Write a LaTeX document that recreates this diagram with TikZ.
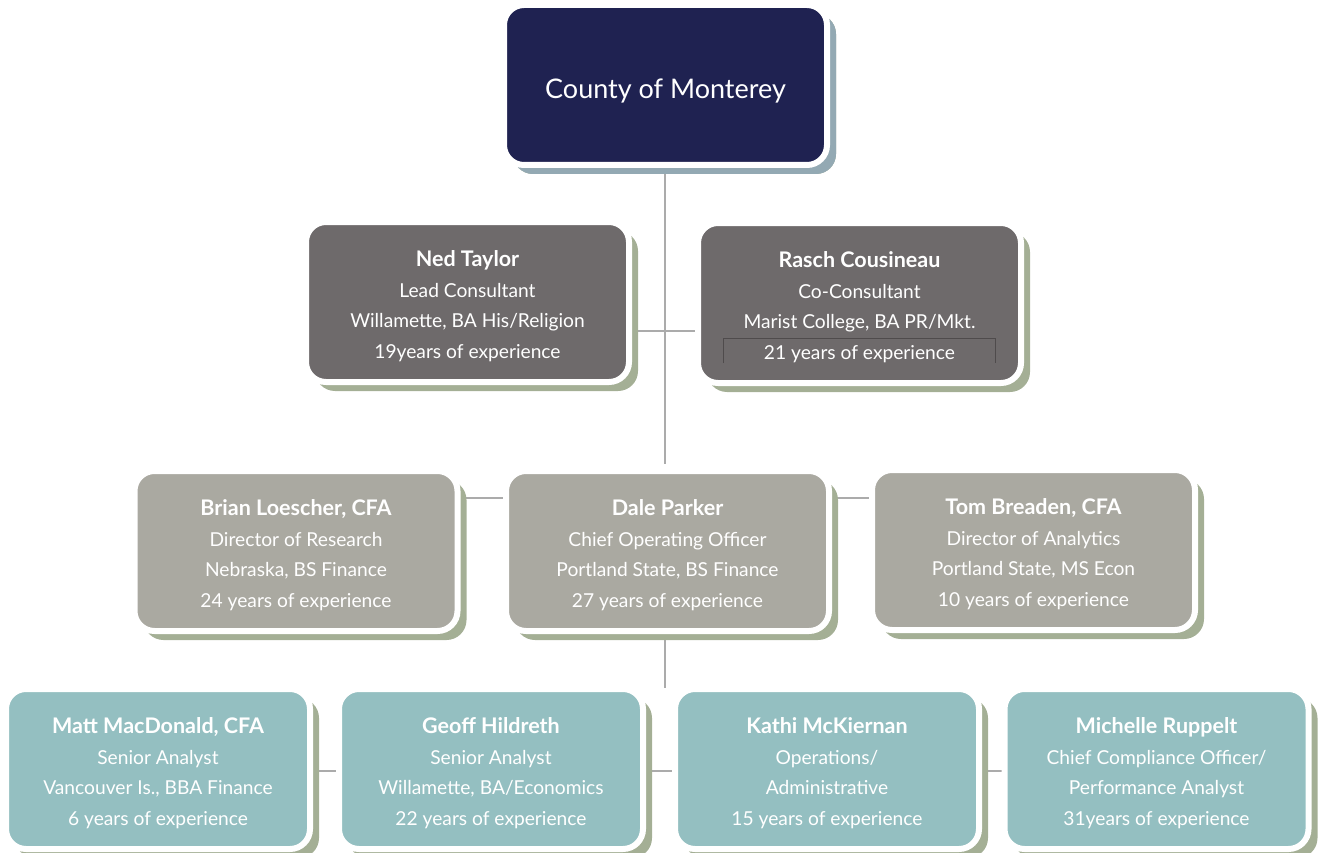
\documentclass[tikz,border=0pt]{standalone}
\usepackage{fontspec}
\setmainfont{Lato}
\usetikzlibrary{shadows,backgrounds}
\definecolor{navybox}{HTML}{1F2251}
\definecolor{slatebox}{HTML}{6E6A6B}
\definecolor{stonebox}{HTML}{AAA9A1}
\definecolor{tealbox}{HTML}{94BFC1}
\definecolor{blueshade}{HTML}{93A9B3}
\definecolor{greenshade}{HTML}{A4AF95}
\definecolor{linkgrey}{HTML}{ABABAB}
\definecolor{rulegrey}{HTML}{4F4B4C}
\tikzset{
  card/.style={rectangle, rounded corners=20pt, draw=white, line width=6pt,
    text=white, align=center, inner sep=0pt,
    minimum width=323pt, minimum height=160pt,
    font=\fontsize{19.2}{30.5}\selectfont,
    drop shadow={shadow xshift=9pt, shadow yshift=-9pt, fill=greenshade, opacity=1}},
  headcard/.style={card, fill=navybox, font=\fontsize{27}{30}\selectfont,
    drop shadow={shadow xshift=9pt, shadow yshift=-9pt, fill=blueshade, opacity=1}},
  consultcard/.style={card, fill=slatebox},
  leadcard/.style={card, fill=stonebox},
  staffcard/.style={card, fill=tealbox, minimum width=304pt},
  link/.style={draw=linkgrey, line width=1.5pt}
}
\newcommand{\who}[1]{{\fontsize{21.5}{30.5}\selectfont\bfseries\rule{0pt}{24pt}#1}}

\begin{document}
\begin{tikzpicture}[x=1pt, y=-1pt]
\useasboundingbox (0,0) rectangle (1322,853);

% top
\node[headcard] (county) at (665.5,85) {\rule{0pt}{31pt}County of Monterey};

% consultants
\node[consultcard] (ned) at (467.5,302) {\who{Ned Taylor}\\Lead Consultant\\Willamette, BA His/Religion\\19years of experience};
\node[consultcard] (rasch) at (859.5,303) {\who{Rasch Cousineau}\\Co-Consultant\\Marist College, BA PR/Mkt.\\21 years of experience};

% directors
\node[leadcard] (brian) at (296,551) {\who{Brian Loescher, CFA}\\Director of Research\\Nebraska, BS Finance\\24 years of experience};
\node[leadcard] (dale) at (667.5,551) {\who{Dale Parker}\\Chief Operating Officer\\Portland State, BS Finance\\27 years of experience};
\node[leadcard] (tom) at (1033.5,550) {\who{Tom Breaden, CFA}\\Director of Analytics\\Portland State, MS Econ\\10 years of experience};

% analysts
\node[staffcard] (matt) at (158,769) {\who{Matt MacDonald, CFA}\\Senior Analyst\\Vancouver Is., BBA Finance\\6 years of experience};
\node[staffcard] (geoff) at (491,769) {\who{Geoff Hildreth}\\Senior Analyst\\Willamette, BA/Economics\\22 years of experience};
\node[staffcard] (kathi) at (827,769) {\who{Kathi McKiernan}\\Operations/\\Administrative\\15 years of experience};
\node[staffcard] (michelle) at (1156.5,769) {\who{Michelle Ruppelt}\\Chief Compliance Officer/\\Performance Analyst\\31years of experience};

\coordinate (split) at (665,688);

\draw[rulegrey, line width=0.8pt] (723,363) -- (723,338) -- (995,338) -- (995,363);

\begin{scope}[on background layer]
\draw[link] (county.south -| split) -- ([yshift=4pt]split |- dale.north);
\draw[link] ([yshift=-29pt]ned.east) -- ([yshift=-29pt]ned.east -| rasch.west);
\draw[link] ([yshift=53pt]brian.east) -- ([yshift=53pt]brian.east -| dale.west);
\draw[link] ([yshift=53pt]dale.east) -- ([yshift=53pt]dale.east -| tom.west);
\draw[link] (split |- dale.south) -- (split);
\draw[link] ([yshift=-2pt]matt.east) -- ([yshift=-2pt]geoff.west);
\draw[link] ([yshift=-2pt]geoff.east) -- ([yshift=-2pt]kathi.west);
\draw[link] ([yshift=-2pt]kathi.east) -- ([yshift=-2pt]michelle.west);
\end{scope}
\end{tikzpicture}
\end{document}
